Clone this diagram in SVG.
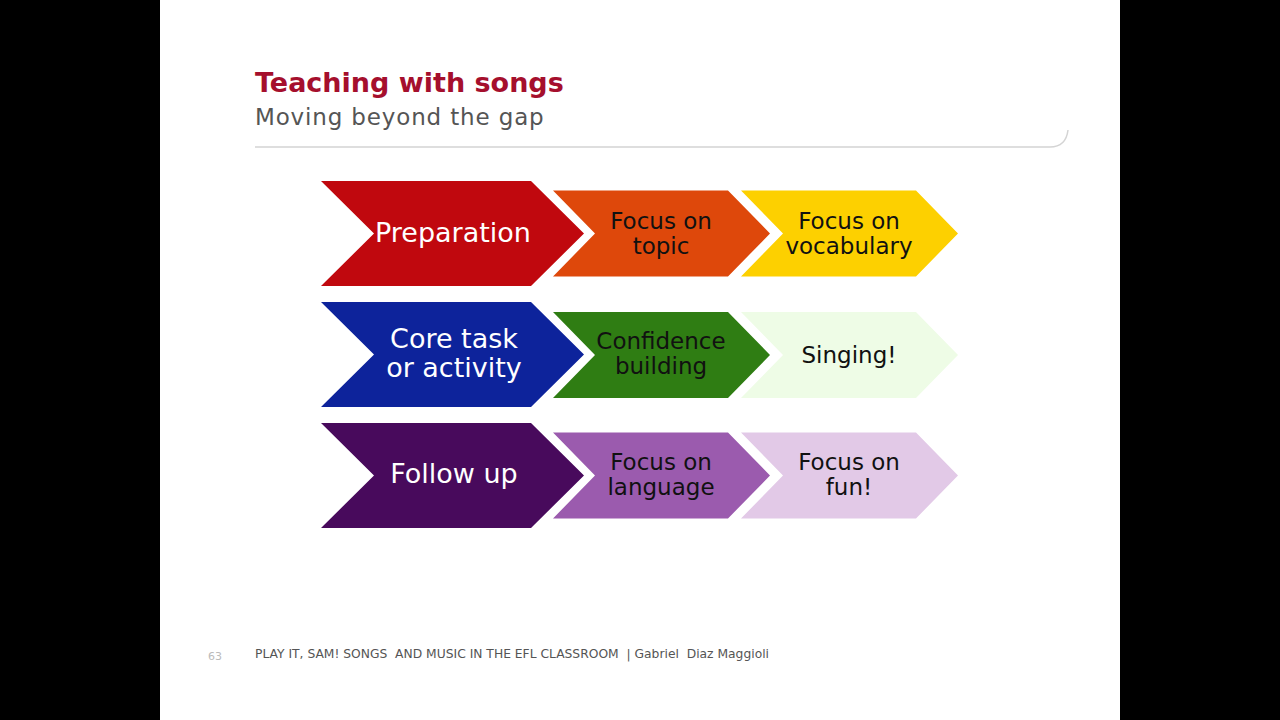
<svg xmlns="http://www.w3.org/2000/svg" width="1280" height="720" viewBox="0 0 1280 720">
<style>
.big{font-family:"DejaVu Sans",Verdana,sans-serif;font-size:27px;fill:#fff;text-anchor:middle}
.sm{font-family:"DejaVu Sans",Verdana,sans-serif;font-size:23px;fill:#111;text-anchor:middle}
.edge{stroke:#fff;stroke-width:6;stroke-linejoin:miter}
</style>
<defs>
<polygon id="bigShape" points="0,0 210,0 263,52.5 210,105 0,105 53,52.5"/>
<polygon id="smShape" points="0,0 175,0 217,43 175,86 0,86 42,43"/>
</defs>
<rect x="0" y="0" width="1280" height="720" fill="#000"/>
<rect x="160" y="0" width="960" height="720" fill="#fff"/>
<g id="header">
<text x="255" y="92" font-family="DejaVu Sans,Verdana,sans-serif" font-weight="bold" font-size="27" fill="#A50F2D">Teaching with songs</text>
<text x="255" y="125" font-family="DejaVu Sans,Verdana,sans-serif" font-size="23" fill="#555" letter-spacing="0.85">Moving beyond the gap</text>
<path d="M255 147 H1050 Q1066 147 1068 130" fill="none" stroke="#D4D4D4" stroke-width="1.5"/>
</g>
<g id="row1">
<g id="vocab"><use href="#smShape" x="741" y="190.5" fill="#FDD000"/><text class="sm" x="849" y="229">Focus on</text><text class="sm" x="849" y="254">vocabulary</text></g>
<g id="topic"><use href="#smShape" class="edge" x="553" y="190.5" fill="#DE480B"/><use href="#smShape" x="553" y="190.5" fill="#DE480B"/><text class="sm" x="661" y="229">Focus on</text><text class="sm" x="661" y="254">topic</text></g>
<g id="prep"><use href="#bigShape" class="edge" x="321" y="181" fill="#C0080E"/><use href="#bigShape" x="321" y="181" fill="#C0080E"/><text class="big" x="453" y="242">Preparation</text></g>
</g>
<g id="row2">
<g id="singing"><use href="#smShape" x="741" y="312" fill="#EEFCE6"/><text class="sm" x="849" y="363">Singing!</text></g>
<g id="confidence"><use href="#smShape" class="edge" x="553" y="312" fill="#2F7D13"/><use href="#smShape" x="553" y="312" fill="#2F7D13"/><text class="sm" x="661" y="349">Confidence</text><text class="sm" x="661" y="374">building</text></g>
<g id="core"><use href="#bigShape" class="edge" x="321" y="302" fill="#0D239B"/><use href="#bigShape" x="321" y="302" fill="#0D239B"/><text class="big" x="454" y="348">Core task</text><text class="big" x="454" y="377">or activity</text></g>
</g>
<g id="row3">
<g id="fun"><use href="#smShape" x="741" y="432.5" fill="#E2C9E7"/><text class="sm" x="849" y="470">Focus on</text><text class="sm" x="849" y="495">fun!</text></g>
<g id="language"><use href="#smShape" class="edge" x="553" y="432.5" fill="#9B5BAE"/><use href="#smShape" x="553" y="432.5" fill="#9B5BAE"/><text class="sm" x="661" y="470">Focus on</text><text class="sm" x="661" y="495">language</text></g>
<g id="follow"><use href="#bigShape" class="edge" x="321" y="423" fill="#480A5C"/><use href="#bigShape" x="321" y="423" fill="#480A5C"/><text class="big" x="454" y="483">Follow up</text></g>
</g>
<g id="footer">
<text x="208" y="660" font-family="DejaVu Sans,Verdana,sans-serif" font-size="11" fill="#BBB">63</text>
<text x="255" y="658" font-family="DejaVu Sans,Verdana,sans-serif" font-size="12.3" fill="#555" xml:space="preserve">PLAY IT, SAM! SONGS  AND MUSIC IN THE EFL CLASSROOM  | Gabriel  Diaz Maggioli</text>
</g>
<g id="connectors"/>
</svg>
